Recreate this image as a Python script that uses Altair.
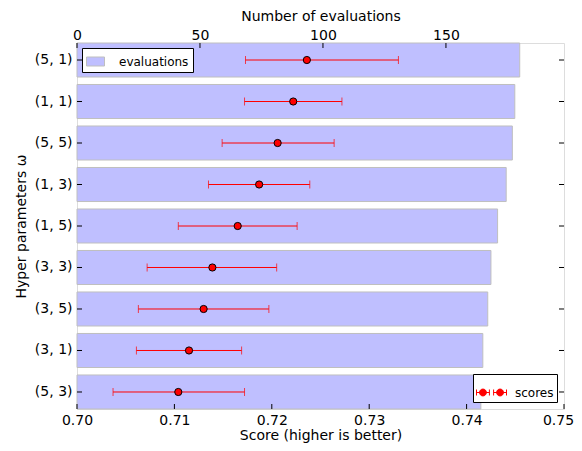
import altair as alt
import pandas as pd

params = ["(5, 1)", "(1, 1)", "(5, 5)", "(1, 3)", "(1, 5)", "(3, 3)", "(3, 5)", "(3, 1)", "(5, 3)"]
evaluations = [180, 178, 177, 174.5, 171, 168.3, 167, 165, 164.2]
scores = [0.7236, 0.7222, 0.7206, 0.7187, 0.7165, 0.7139, 0.7130, 0.7115, 0.7104]
score_low = [0.7173, 0.7172, 0.7149, 0.7135, 0.7104, 0.7072, 0.7063, 0.7061, 0.7037]
score_high = [0.7330, 0.7272, 0.7264, 0.7239, 0.7226, 0.7205, 0.7197, 0.7169, 0.7172]
eval_ticks = [0, 50, 100, 150]
score_ticks = [0.70, 0.71, 0.72, 0.73, 0.74, 0.75]

W, H = 487, 366
FONT = "DejaVu Sans"

df = pd.DataFrame({
    "param": params, "evals": evaluations, "score": scores,
    "lo": score_low, "hi": score_high,
    "s1": ["evaluations"] * len(params), "s2": ["scores"] * len(params),
})
df_et = pd.DataFrame({"t": eval_ticks})
df_st = pd.DataFrame({"t": score_ticks})

eval_scale = alt.Scale(domain=[0, 198], nice=False, zero=False)
score_scale = alt.Scale(domain=[0.70, 0.75], nice=False, zero=False)

y_enc = alt.Y("param:N", sort=params,
              scale=alt.Scale(paddingInner=0.18, paddingOuter=0),
              axis=alt.Axis(title="Hyper parameters ω", ticks=False, domain=False,
                            labelPadding=5, titlePadding=6, labelFontSize=14,
                            titleFontSize=14, labelColor="black", titleColor="black",
                            labelFont=FONT, titleFont=FONT, titleFontWeight="normal"))

bars = alt.Chart(df).mark_bar(stroke="#bfbfbf", strokeWidth=1).encode(
    x=alt.X("evals:Q", scale=eval_scale,
            axis=alt.Axis(orient="top", title="Number of evaluations", values=eval_ticks,
                          ticks=False, domain=False, grid=False, labelPadding=1,
                          titlePadding=5, labelFontSize=14, titleFontSize=14,
                          labelFont=FONT, titleFont=FONT, titleFontWeight="normal",
                          labelColor="black", titleColor="black", labelFlush=False)),
    y=y_enc,
    color=alt.Color("s1:N", scale=alt.Scale(domain=["evaluations"], range=["#bfbfff"]),
                    legend=alt.Legend(title=None, orient="top-left", offset=5,
                                      symbolType="M-1,-0.5H1V0.5H-1Z", symbolSize=324,
                                      symbolStrokeColor="#bfbfbf", symbolStrokeWidth=1,
                                      labelFontSize=12, labelFont=FONT, labelColor="black",
                                      labelOffset=14, strokeColor="black",
                                      fillColor="white", padding=4, cornerRadius=0)),
)

top_ticks = alt.Chart(df_et).mark_rule(color="black", strokeWidth=1).encode(
    x=alt.X("t:Q", scale=eval_scale, axis=None),
    y=alt.value(0), y2=alt.value(5),
)

err = alt.Chart(df).mark_rule(color="red", strokeWidth=1).encode(
    x=alt.X("lo:Q", scale=score_scale, axis=None),
    x2="hi:Q",
    y=y_enc,
)
cap_lo = alt.Chart(df).mark_tick(color="red", thickness=1, size=8, orient="vertical").encode(
    x=alt.X("lo:Q", scale=score_scale, axis=None), y=y_enc)
cap_hi = alt.Chart(df).mark_tick(color="red", thickness=1, size=8, orient="vertical").encode(
    x=alt.X("hi:Q", scale=score_scale, axis=None), y=y_enc)

sym_parts = []
for c in (-0.57, 0.57):
    sym_parts.append(
        f"M{c-0.43:.2f},0H{c+0.43:.2f}M{c-0.43:.2f},-0.2V0.2M{c+0.43:.2f},-0.2V0.2"
        f"M{c-0.23:.2f},0A0.23,0.23 0 1,0 {c+0.23:.2f},0A0.23,0.23 0 1,0 {c-0.23:.2f},0Z"
    )
score_symbol = "".join(sym_parts)

pts = alt.Chart(df).mark_point(filled=True, shape="circle", size=52, stroke="black",
                               strokeWidth=1, opacity=1).encode(
    x=alt.X("score:Q", scale=score_scale,
            axis=alt.Axis(orient="bottom", title="Score (higher is better)",
                          values=score_ticks, format=".2f", ticks=False, domain=False,
                          grid=False, labelPadding=4, titlePadding=1, labelFontSize=14,
                          titleFontSize=14, labelFont=FONT, titleFont=FONT,
                          titleFontWeight="normal", labelColor="black", titleColor="black",
                          labelFlush=False,
                          labelOffset={"condition": {"test": "datum.value >= 0.749",
                                                     "value": -6}, "value": 0})),
    y=y_enc,
    fill=alt.Fill("s2:N", scale=alt.Scale(domain=["scores"], range=["red"]),
                  legend=alt.Legend(title=None, orient="bottom-right", offset=7,
                                    symbolType=score_symbol, symbolSize=900,
                                    symbolStrokeColor="red", symbolFillColor="red",
                                    symbolStrokeWidth=1, labelFontSize=12, labelFont=FONT,
                                    labelColor="black", labelOffset=8, strokeColor="black",
                                    fillColor="white", padding=3, cornerRadius=0)),
)

bottom_ticks = alt.Chart(df_st).mark_rule(color="black", strokeWidth=1).encode(
    x=alt.X("t:Q", scale=score_scale, axis=None),
    y=alt.value(H - 5), y2=alt.value(H),
)

left_ticks = alt.Chart(df).mark_rule(color="black", strokeWidth=1).encode(
    y=y_enc, x=alt.value(0), x2=alt.value(5))
right_ticks = alt.Chart(df).mark_rule(color="black", strokeWidth=1).encode(
    y=y_enc, x=alt.value(W - 5), x2=alt.value(W))

chart = alt.layer(
    bars, top_ticks, err, cap_lo, cap_hi, pts, bottom_ticks, left_ticks, right_ticks
).resolve_scale(x="independent").properties(
    width=W, height=H,
    autosize=alt.AutoSizeParams(type="none"),
    padding={"left": 69, "top": 35, "right": 10, "bottom": 34},
).configure_view(stroke="black", strokeWidth=1).configure(background="white")

chart.save("out.html", embed_options={"renderer": "svg", "actions": False})
